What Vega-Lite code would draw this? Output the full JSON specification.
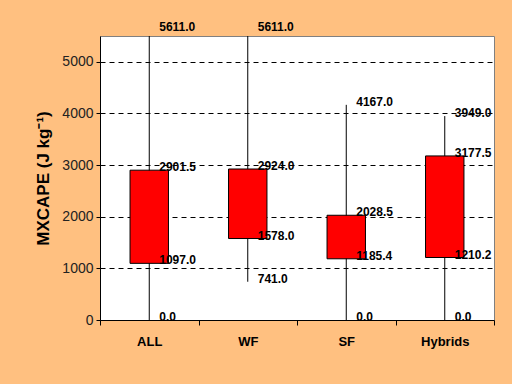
{
  "$schema": "https://vega.github.io/schema/vega-lite/v6.json",
  "width": 394,
  "height": 284,
  "autosize": {"type": "none"},
  "padding": {"left": 100, "top": 36, "right": 18, "bottom": 64},
  "background": "#FFC080",
  "config": {
    "view": {"fill": "white", "stroke": "#808080", "strokeWidth": 1},
    "font": "Liberation Sans"
  },
  "data": {
    "values": [
      {"cat": "ALL", "max": 5611.0, "q3": 2901.5, "q1": 1097.0, "min": 0.0},
      {"cat": "WF", "max": 5611.0, "q3": 2924.0, "q1": 1578.0, "min": 741.0},
      {"cat": "SF", "max": 4167.0, "q3": 2028.5, "q1": 1185.4, "min": 0.0},
      {"cat": "Hybrids", "max": 3949.0, "q3": 3177.5, "q1": 1210.2, "min": 0.0}
    ]
  },
  "encoding": {
    "x": {
      "field": "cat",
      "type": "nominal",
      "sort": ["ALL", "WF", "SF", "Hybrids"],
      "scale": {"paddingInner": 0, "paddingOuter": 0},
      "axis": {
        "title": null,
        "labelAngle": 0,
        "tickBand": "extent",
        "tickSize": 5,
        "tickColor": "black",
        "domainColor": "black",
        "labelFontWeight": "bold",
        "labelFontSize": 13,
        "labelColor": "black",
        "labelPadding": 10,
        "grid": false
      }
    }
  },
  "layer": [
    {
      "mark": {"type": "rule", "clip": true, "color": "black", "strokeWidth": 1},
      "encoding": {
        "y": {
          "field": "max",
          "type": "quantitative",
          "scale": {"domain": [0, 5500], "nice": false},
          "axis": {
            "values": [0, 1000, 2000, 3000, 4000, 5000],
            "format": "d",
            "grid": true,
            "gridColor": "black",
            "gridDash": [5, 4],
            "gridOpacity": 1,
            "domainColor": "black",
            "tickColor": "black",
            "tickSize": 4,
            "labelFontSize": 14,
            "labelColor": "#222222",
            "labelPadding": 3,
            "title": "MXCAPE (J kg⁻¹)",
            "titleFontSize": 17,
            "titleFontWeight": "bold",
            "titleColor": "black",
            "titlePadding": 9
          }
        },
        "y2": {"field": "min"}
      }
    },
    {
      "mark": {"type": "bar", "color": "#FF0000", "stroke": "black", "strokeWidth": 1, "width": {"band": 0.39}},
      "encoding": {
        "y": {"field": "q3", "type": "quantitative"},
        "y2": {"field": "q1"}
      }
    },
    {
      "transform": [{"fold": ["max", "q3", "q1", "min"], "as": ["stat", "val"]}],
      "mark": {"type": "text", "align": "left", "baseline": "middle", "dx": 10, "dy": -3, "fontWeight": "bold", "fontSize": 12, "color": "black"},
      "encoding": {
        "y": {"field": "val", "type": "quantitative"},
        "text": {"field": "val", "type": "quantitative", "format": ".1f"}
      }
    }
  ]
}
